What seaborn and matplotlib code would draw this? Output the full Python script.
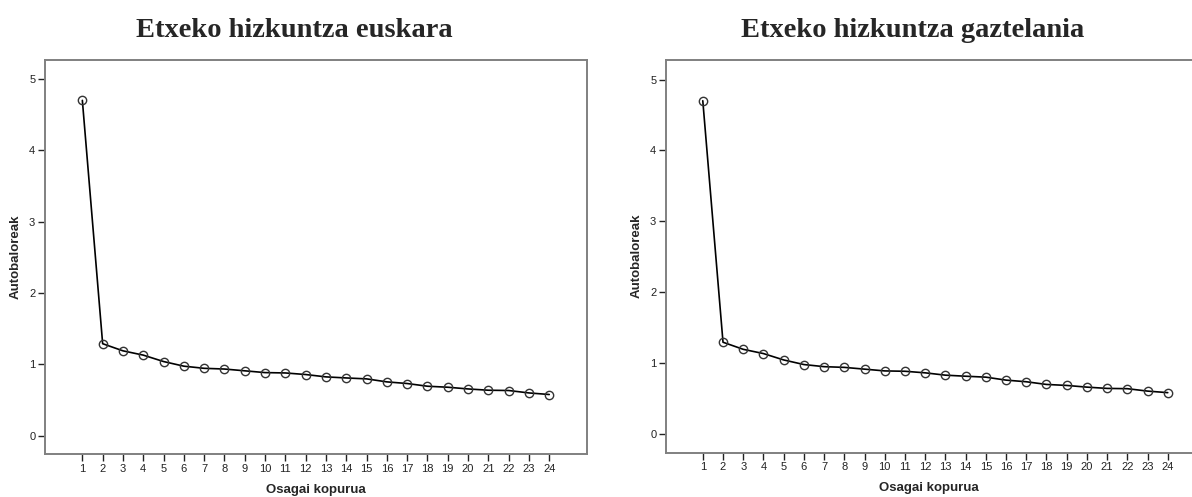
import numpy as np
import pandas as pd
import seaborn as sns
import matplotlib.pyplot as plt

# scree plot data (eigenvalues)
components = list(range(1, 25))
euskara_eigen = [4.70, 1.29, 1.19, 1.13, 1.04, 0.975, 0.945, 0.935, 0.91, 0.885,
                 0.88, 0.858, 0.825, 0.81, 0.797, 0.755, 0.732, 0.694, 0.68, 0.656,
                 0.638, 0.634, 0.60, 0.578]
gaztelania_eigen = [4.70, 1.29, 1.19, 1.13, 1.04, 0.975, 0.945, 0.935, 0.91, 0.885,
                    0.88, 0.858, 0.825, 0.81, 0.797, 0.755, 0.732, 0.694, 0.68, 0.656,
                    0.638, 0.634, 0.60, 0.578]
titles = ["Etxeko hizkuntza euskara", "Etxeko hizkuntza gaztelania"]
y_ticks = [0, 1, 2, 3, 4, 5]

sns.set_style("white")
plt.rcParams['font.family'] = ['Liberation Sans', 'DejaVu Sans']

fig = plt.figure(figsize=(11.92, 4.97), dpi=100)
W, H = 1192, 497

panels = [
    # (left, top, right, bottom) in px, xlim, ylim, title centre x
    ((45, 59.7, 587, 454.3), (-0.84, 25.86), (-0.26, 5.27), 294, euskara_eigen),
    ((666, 59.7, 1192, 452.7), (-0.82, 25.2), (-0.27, 5.28), 913, gaztelania_eigen),
]

for i, (box, xlim, ylim, tx, vals) in enumerate(panels):
    l, t, r, b = box
    ax = fig.add_axes([l / W, 1 - b / H, (r - l) / W, (b - t) / H])
    df = pd.DataFrame({"Osagai": components, "Autobalio": vals})
    sns.lineplot(data=df, x="Osagai", y="Autobalio", ax=ax, color="black",
                 linewidth=1.2, marker="o", markersize=6,
                 markerfacecolor="none", markeredgecolor="#333333",
                 markeredgewidth=1.0)
    ax.set_xlim(*xlim)
    ax.set_ylim(*ylim)
    ax.set_xticks(components)
    ax.set_yticks(y_ticks)
    ax.tick_params(axis="both", direction="out", length=5, width=1,
                   color="#222222", labelsize=8, labelcolor="#222222", pad=2,
                   bottom=True, left=True)
    for s in ax.spines.values():
        s.set_color("#808080")
        s.set_linewidth(1.4)
    if i == 1:
        ax.spines["right"].set_visible(False)
    ax.set_xlabel("Osagai kopurua", fontsize=9.5, fontweight="bold", labelpad=7)
    ax.set_ylabel("Autobaloreak", fontsize=9.5, fontweight="bold", labelpad=5)
    fig.text(tx / W, 1 - 37 / H, titles[i], ha="center", va="baseline",
             fontsize=20.5, fontweight="bold", family=["Liberation Serif"])

fig.savefig("out.png", dpi=100)
